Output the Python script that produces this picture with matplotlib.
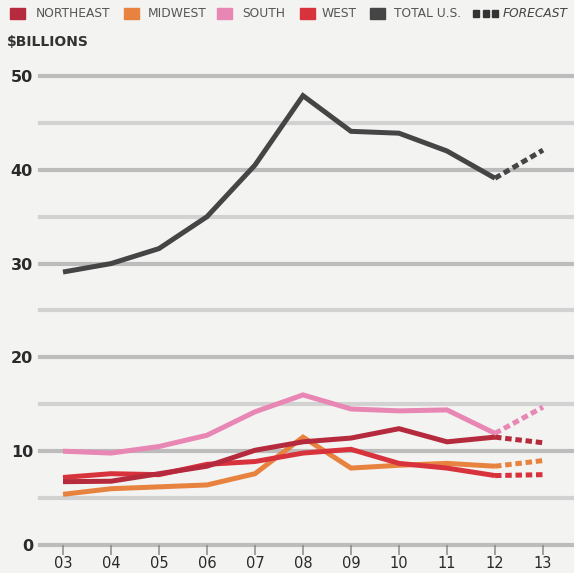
import matplotlib.pyplot as plt
from matplotlib.patches import Rectangle

# values in $ billions, years 2003-2012 actual, 2013 forecast
years = [3, 4, 5, 6, 7, 8, 9, 10, 11, 12]
year_labels = ['03', '04', '05', '06', '07', '08', '09', '10', '11', '12', '13']
northeast = [6.75, 6.8, 7.6, 8.4, 10.1, 11.0, 11.4, 12.4, 11.0, 11.5]
midwest = [5.4, 6.0, 6.2, 6.4, 7.6, 11.5, 8.2, 8.5, 8.7, 8.4]
south = [10.0, 9.8, 10.5, 11.7, 14.2, 16.0, 14.5, 14.3, 14.4, 11.9]
west = [7.2, 7.6, 7.5, 8.6, 8.9, 9.8, 10.2, 8.7, 8.2, 7.4]
total = [29.1, 30.0, 31.6, 35.0, 40.5, 47.9, 44.1, 43.9, 42.0, 39.1]
forecast_2013 = {'northeast': 10.9, 'midwest': 9.0, 'south': 14.7, 'west': 7.5, 'total': 42.1}

colors = {'northeast': '#b52a3c', 'midwest': '#e8833f', 'south': '#e886b4',
          'west': '#d8333d', 'total': '#454545'}
bg = '#f3f3f1'

fig = plt.figure(figsize=(5.74, 5.73), dpi=100, facecolor=bg)
W, H = 574, 573
# axes from x=40..572 px, y=0 at 545 px, 50 at 76 px
x0, x1 = 40, 572
ax = fig.add_axes([x0 / W, (H - 545) / H, (x1 - x0) / W, (545 - 66.6) / H])
ax.set_facecolor(bg)
ax.set_xlim(3 - (63 - x0) / 48, 13 + (x1 - 543) / 48)
ax.set_ylim(0, 51)

for v in range(0, 51, 5):
    c = '#bcbcbc' if v % 10 == 0 else '#d2d2d2'
    ax.axhline(v, color=c, lw=3, zorder=1, clip_on=False)

series = [('south', south), ('midwest', midwest), ('west', west),
          ('northeast', northeast), ('total', total)]
for key, vals in series:
    ax.plot(years, vals, color=colors[key], lw=3.6, solid_joinstyle='miter',
            solid_capstyle='butt', zorder=3)
    ax.plot([years[-1], 13], [vals[-1], forecast_2013[key]], color=colors[key],
            lw=3.6, dashes=(1.3, 0.75), dash_capstyle='butt', zorder=3)

for s in ax.spines.values():
    s.set_visible(False)
ax.set_yticks(range(0, 51, 10))
ax.set_yticklabels([str(v) for v in range(0, 51, 10)], fontsize=11.5,
                   fontweight='semibold', color='#2a2a2a')
ax.set_xticks(range(3, 14))
ax.set_xticklabels(year_labels, fontsize=10.5, color='#2a2a2a')
ax.tick_params(axis='y', length=0, pad=5)
ax.tick_params(axis='x', length=7, width=1.1, color='#8a8a8a', pad=1)

# title / unit
fig.text(7 / W, 1 - 41.5 / H, '$BILLIONS', fontsize=10, fontweight='bold',
         color='#333333', va='center', ha='left')

# legend row
legend = [('northeast', 'NORTHEAST', 10, 36), ('midwest', 'MIDWEST', 124, 148),
          ('south', 'SOUTH', 217, 242), ('west', 'WEST', 300, 322),
          ('total', 'TOTAL U.S.', 370, 394)]
ly = 13.5
for key, label, sx, tx in legend:
    fig.patches.append(Rectangle((sx / W, 1 - (ly + 5) / H), 15 / W, 10 / H,
                                 transform=fig.transFigure, color=colors[key]))
    fig.text(tx / W, 1 - ly / H, label, fontsize=8.8, color='#555555',
             va='center', ha='left')
for i in range(3):
    fig.patches.append(Rectangle(((473 + i * 9.5) / W, 1 - (ly + 3) / H), 6 / W, 6 / H,
                                 transform=fig.transFigure, color='#333333'))
fig.text(503 / W, 1 - ly / H, 'FORECAST', fontsize=8.8, style='italic',
         color='#444444', va='center', ha='left')

fig.savefig('out.png', dpi=100, facecolor=bg)
